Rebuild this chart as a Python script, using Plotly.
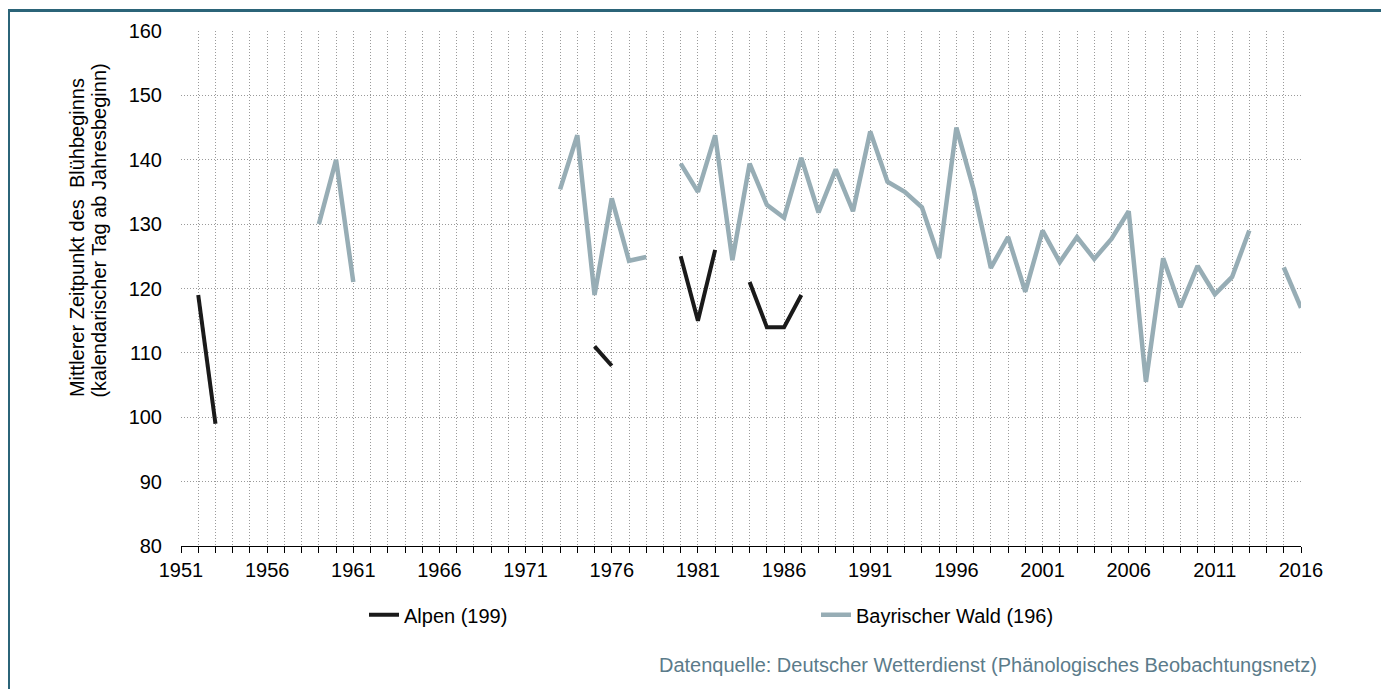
import plotly.graph_objects as go

years = list(range(1951, 2017))

alpen = {1952: 119, 1953: 99, 1975: 111, 1976: 108, 1980: 125, 1981: 115, 1982: 126,
         1984: 121, 1985: 114, 1986: 114, 1987: 119}
wald = {1959: 130, 1960: 140, 1961: 121,
        1973: 135.4, 1974: 143.8, 1975: 119, 1976: 134, 1977: 124.3, 1978: 124.9,
        1980: 139.4, 1981: 135, 1982: 143.8, 1983: 124.4, 1984: 139.4, 1985: 133,
        1986: 131, 1987: 140.3, 1988: 131.8, 1989: 138.5, 1990: 132, 1991: 144.4,
        1992: 136.6, 1993: 135, 1994: 132.6, 1995: 124.7, 1996: 145, 1997: 135.4,
        1998: 123.2, 1999: 128, 2000: 119.5, 2001: 129, 2002: 124.1, 2003: 128,
        2004: 124.6, 2005: 127.7, 2006: 132, 2007: 105.5, 2008: 124.7, 2009: 117.1,
        2010: 123.5, 2011: 119.1, 2012: 121.8, 2013: 129, 2015: 123.3, 2016: 117}

alpen_vals = [alpen.get(y) for y in years]
wald_vals = [wald.get(y) for y in years]
tick_text = [str(y) if (y - 1951) % 5 == 0 else "" for y in years]

FONT = "Liberation Sans, Arial, sans-serif"
FS = 20

fig = go.Figure()
fig.add_trace(go.Scatter(x=years, y=alpen_vals, mode="lines", name="Alpen (199)",
                         line=dict(color="#1a1a1a", width=4), connectgaps=False))
fig.add_trace(go.Scatter(x=years, y=wald_vals, mode="lines", name="Bayrischer Wald (196)",
                         line=dict(color="#97adb5", width=4.5), connectgaps=False))

OFF = 8  # page body margin
W, H = 1381, 681
L, T = 181 - OFF, 29 - OFF
pw, ph = 1120, 517
R, B = W - L - pw, H - T - ph

def px(x):  # page x -> paper
    return (x - OFF - L) / pw

def py(y):  # page y -> paper
    return (H - B - (y - OFF)) / ph

fig.update_layout(
    width=W, height=H,
    margin=dict(l=L, r=R, t=T, b=B, pad=0),
    paper_bgcolor="white", plot_bgcolor="white",
    font=dict(family=FONT, size=FS, color="black"),
    showlegend=True,
    legend=dict(orientation="h", x=px(364), y=py(615), xanchor="left", yanchor="middle",
                entrywidth=407, entrywidthmode="pixels", font=dict(size=FS),
                bgcolor="rgba(0,0,0,0)"),
    xaxis=dict(range=[1951, 2016], tickmode="array", tickvals=years, ticktext=tick_text,
               showgrid=True, gridcolor="#9a9a9a", griddash="1px,2px", gridwidth=1,
               showline=True, linecolor="black", linewidth=1,
               ticks="outside", ticklen=6, tickcolor="black",
               tickfont=dict(size=FS), zeroline=False),
    yaxis=dict(range=[80, 160], dtick=10, showgrid=True, gridcolor="#9a9a9a",
               griddash="1px,2px", gridwidth=1, showline=False, zeroline=False,
               ticks="", tickfont=dict(size=FS), ticklabelstandoff=18),
    shapes=[dict(type="rect", xref="paper", yref="paper",
                 x0=px(8.5), x1=px(1384.5), y0=py(720), y1=py(8.5),
                 line=dict(color="#2b6478", width=3), layer="above")],
    annotations=[
        dict(text="Datenquelle: Deutscher Wetterdienst (Phänologisches Beobachtungsnetz)",
             xref="paper", yref="paper", x=px(1319), y=py(665),
             xanchor="right", yanchor="middle", showarrow=False,
             font=dict(size=FS, color="#5b7b8a")),
        dict(text="Mittlerer Zeitpunkt des  Blühbeginns", textangle=-90,
             xref="paper", yref="paper", x=px(77), y=py(399),
             xanchor="center", yanchor="bottom", showarrow=False,
             font=dict(size=FS)),
        dict(text="(kalendarischer Tag ab Jahresbeginn)", textangle=-90,
             xref="paper", yref="paper", x=px(99), y=py(399),
             xanchor="center", yanchor="bottom", showarrow=False,
             font=dict(size=FS)),
    ],
)

fig.write_html("out.html")
